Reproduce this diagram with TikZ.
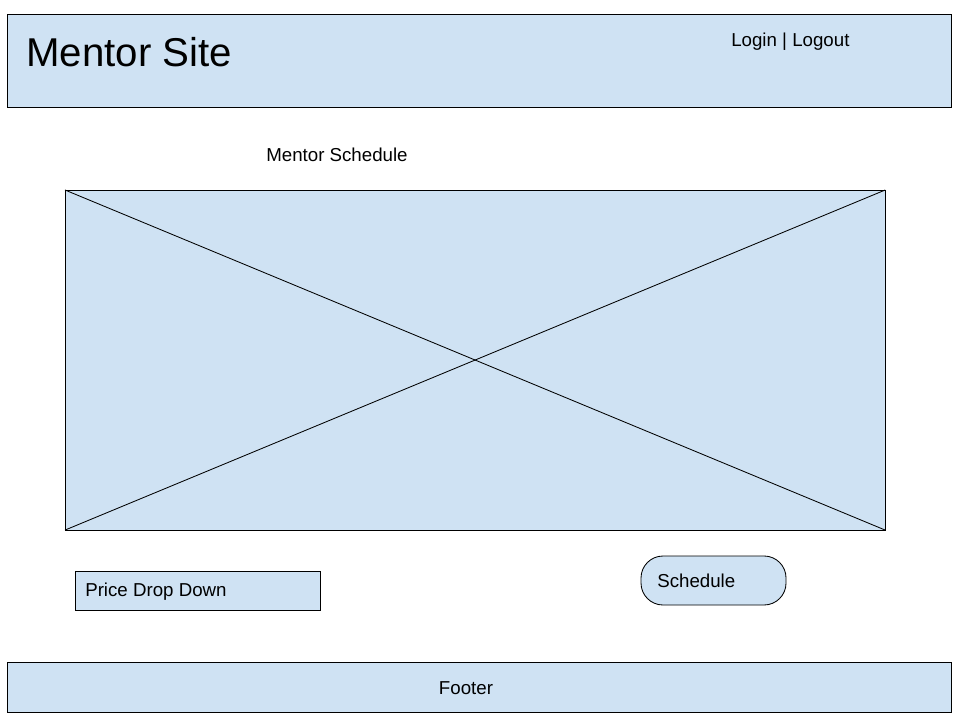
\documentclass[tikz,border=0pt]{standalone}
\usepackage{fontspec}
\setmainfont{Liberation Sans}
\definecolor{wireblue}{HTML}{CFE2F3}
\tikzset{
  panel/.style={draw=black,fill=wireblue,line width=0.6pt,inner sep=0pt,outer sep=0pt,anchor=north west},
  caption/.style={inner sep=0pt,anchor=base west,font=\fontsize{13.3}{15}\selectfont},
}
\begin{document}
\begin{tikzpicture}[x=0.025cm,y=-0.025cm]
\useasboundingbox (0,0) rectangle (960,720);
%
\node [panel,minimum width=23.6cm,minimum height=2.325cm] (header) at (7,14) {};
\node [caption,font=\fontsize{28.6}{34}\selectfont] (title) at (26,67) {Mentor Site};
\node [caption] (login) at (731,47) {Login | Logout};
%
\node [caption] (schedtitle) at (266,162) {Mentor Schedule};
\node [panel,minimum width=20.5cm,minimum height=8.5cm] (img) at (65,190) {};
\draw [line width=0.6pt] (img.north west) -- (img.south east);
\draw [line width=0.6pt] (img.south west) -- (img.north east);
%
\node [panel,minimum width=6.125cm,minimum height=0.975cm] (price) at (75,571) {};
\node [caption] (pricetext) at (85,597) {Price Drop Down};
\node [panel,rounded corners=0.55cm,minimum width=3.625cm,minimum height=1.225cm] (button) at (641,556) {};
\node [caption] (buttontext) at (657,587) {Schedule};
%
\node [panel,minimum width=23.6cm,minimum height=1.25cm] (footer) at (7,662) {};
\node [caption,anchor=base] (footertext) at (466,694) {Footer};
%
\end{tikzpicture}
\end{document}
